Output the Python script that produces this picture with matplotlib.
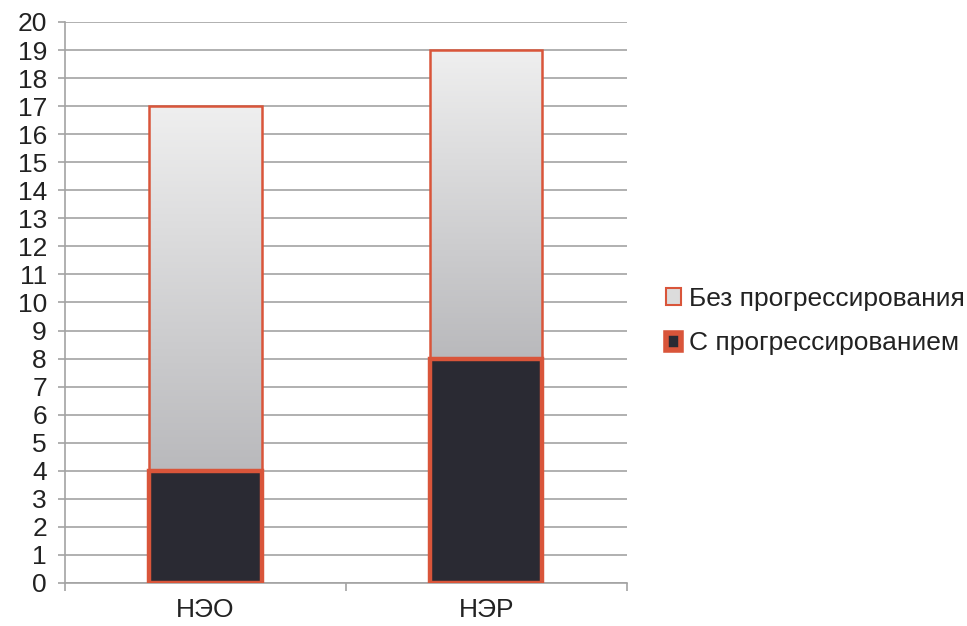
import numpy as np
import matplotlib
matplotlib.use("Agg")
import matplotlib.pyplot as plt
from matplotlib.patches import Patch
from matplotlib.colors import LinearSegmentedColormap

plt.rcParams['font.family'] = ['Liberation Sans', 'DejaVu Sans']

categories = ["НЭО", "НЭР"]
with_progression = [4, 8]
without_progression = [13, 11]
y_ticks = list(range(0, 21))
series_labels = ["Без прогрессирования", "С прогрессированием"]

edge_color = "#d9553a"
dark_color = "#2a2a33"
grid_color = "#a3a3a3"
text_color = "#222222"
font_size = 19

fig = plt.figure(figsize=(9.67, 6.26), dpi=100)
ax = fig.add_axes([0.0672, 0.0687, 0.5808, 0.8962])

x = np.arange(len(categories))
width = 0.40

bottom_bars = ax.bar(x, with_progression, width, color=dark_color,
                     edgecolor=edge_color, linewidth=3.2, zorder=3)
top_bars = ax.bar(x, without_progression, width, bottom=with_progression,
                  color="none", edgecolor=edge_color, linewidth=1.8, zorder=4)

# vertical gray gradient inside the upper segments
grad = LinearSegmentedColormap.from_list("g", ["#b9b9bc", "#efefef"])
for bar in top_bars:
    x0, y0 = bar.get_x(), bar.get_y()
    w, h = bar.get_width(), bar.get_height()
    img = ax.imshow(np.linspace(0, 1, 256).reshape(-1, 1), cmap=grad,
                    origin="lower", aspect="auto",
                    extent=[x0, x0 + w, y0, y0 + h], zorder=2)
    img.set_clip_path(bar)

ax.set_xlim(-0.5, 1.5)
ax.set_ylim(0, 20)
ax.set_yticks(y_ticks)
ax.set_yticklabels([str(t) for t in y_ticks])
ax.yaxis.grid(True, color=grid_color, linewidth=1.2, zorder=0)
ax.set_axisbelow(True)

ax.set_xticks([-0.5, 0.5, 1.5])
ax.set_xticklabels(["", "", ""])
ax.set_xticks(x, minor=True)
ax.set_xticklabels(categories, minor=True)
ax.tick_params(axis="x", which="major", length=6, color=grid_color, width=1.2)
ax.tick_params(axis="x", which="minor", length=0, pad=11,
               labelsize=font_size, labelcolor=text_color)
ax.tick_params(axis="y", length=5, color=grid_color, width=1.2,
               labelsize=font_size, labelcolor=text_color, pad=8)

for side in ("top", "right"):
    ax.spines[side].set_visible(False)
for side in ("left", "bottom"):
    ax.spines[side].set_color(grid_color)
    ax.spines[side].set_linewidth(1.2)

handles = [
    Patch(facecolor="#dcdcdc", edgecolor=edge_color, linewidth=1.5),
    Patch(facecolor=dark_color, edgecolor=edge_color, linewidth=4),
]
fig.legend(handles, series_labels, loc="center left",
           bbox_to_anchor=(0.6746, 0.487), frameon=False, fontsize=font_size,
           handlelength=0.6, handleheight=0.6, handletextpad=0.3,
           labelspacing=0.78, labelcolor=text_color, borderpad=0)

fig.savefig("out.png", dpi=100, facecolor="white")
